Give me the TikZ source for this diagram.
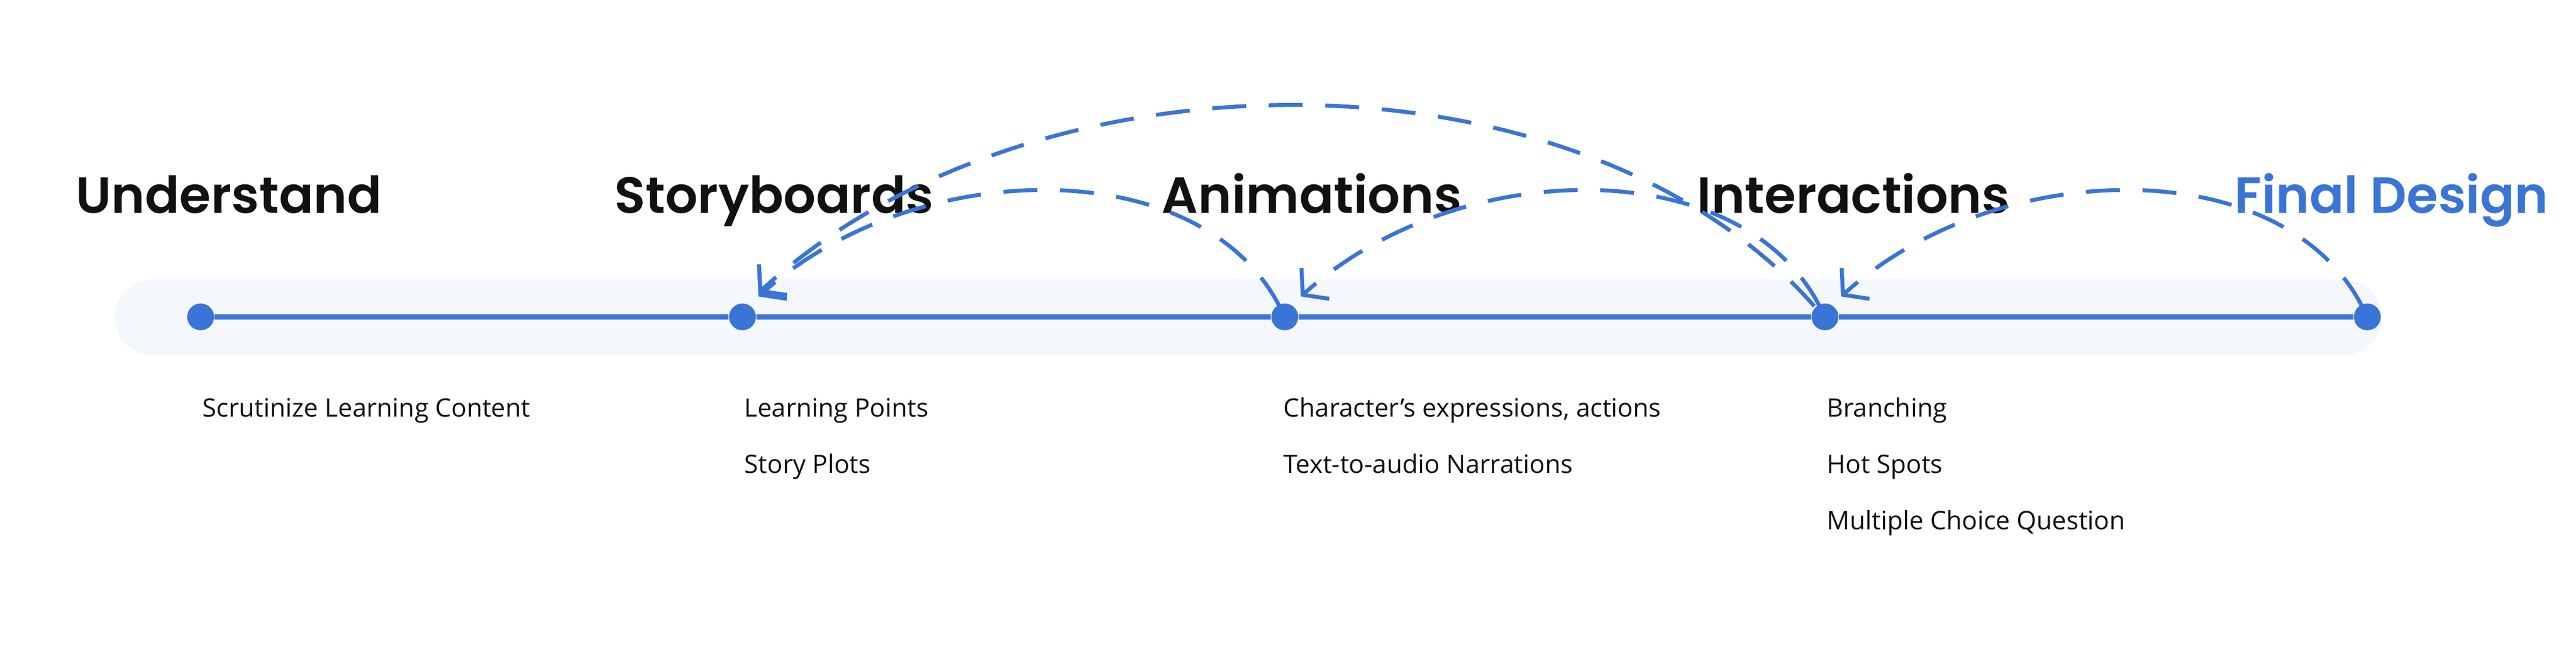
\documentclass[tikz,border=0pt]{standalone}
\usepackage{fontspec}
\setmainfont{Open Sans}
\newfontfamily\titlefont{Poppins}[BoldFont={* SemiBold}]
\usetikzlibrary{arrows.meta,calc}
\definecolor{blu}{HTML}{3A74D6}
\definecolor{band}{HTML}{F4F8FD}
\definecolor{ink}{HTML}{111111}
\tikzset{
  dot/.style={circle,fill=blu,inner sep=0pt,minimum size=0.5cm},
  ttl/.style={anchor=base west,inner sep=0pt,font=\titlefont\bfseries\fontsize{27}{30}\selectfont,text=ink},
  itm/.style={anchor=base west,inner sep=0pt,font=\fontsize{13.5}{16}\selectfont,text=ink},
  back/.style={blu,line width=2.1pt,dash pattern=on 18pt off 12pt,-{Straight Barb[length=9pt,width=22pt,line width=2.1pt]}}
}
\begin{document}
\begin{tikzpicture}
\useasboundingbox (0,0) rectangle (48.02,12.42);
\fill[band,rounded corners=0.7cm] (2.14,5.80) rectangle (44.40,7.21);
\node[dot] (u) at (3.74,6.51) {};
\node[dot] (s) at (13.84,6.51) {};
\node[dot] (a) at (23.95,6.51) {};
\node[dot] (i) at (34.02,6.51) {};
\node[dot] (f) at (44.13,6.51) {};
\draw[blu,line width=2.6pt] (u) -- (s) -- (a) -- (i) -- (f);
\node[ttl] (tu) at (1.41,8.44) {Understand};
\node[ttl] (ts) at (11.45,8.44) {Storyboards};
\node[ttl] (ta) at (21.65,8.44) {Animations};
\node[ttl] (ti) at (31.63,8.44) {Interactions};
\node[ttl,text=blu] (tf) at (41.65,8.44) {Final Design};
\node[itm] (u1) at (3.77,4.64) {Scrutinize Learning Content};
\node[itm] (s1) at (13.87,4.64) {Learning Points};
\node[itm] (s2) at (13.87,3.59) {Story Plots};
\node[itm] (a1) at (23.92,4.64) {Character’s expressions, actions};
\node[itm] (a2) at (23.92,3.59) {Text-to-audio Narrations};
\node[itm] (i1) at (34.05,4.64) {Branching};
\node[itm] (i2) at (34.05,3.59) {Hot Spots};
\node[itm] (i3) at (34.05,2.54) {Multiple Choice Question};
\draw[back] ($(a)+(-0.1,0.2)$) .. controls ($(a)+(-1.6,3.1)$) and ($(s)+(3.2,3.0)$) .. ($(s)+(0.3,0.38)$);
\draw[back] ($(i)+(-0.1,0.2)$) .. controls ($(i)+(-1.6,3.1)$) and ($(a)+(3.2,3.0)$) .. ($(a)+(0.3,0.38)$);
\draw[back] ($(f)+(-0.1,0.2)$) .. controls ($(f)+(-1.6,3.1)$) and ($(i)+(3.2,3.0)$) .. ($(i)+(0.3,0.38)$);
\draw[back] ($(i)+(-0.2,0.2)$) .. controls ($(i)+(-4.5,5.1)$) and ($(s)+(5.5,5.2)$) .. ($(s)+(0.3,0.45)$);
\end{tikzpicture}
\end{document}
